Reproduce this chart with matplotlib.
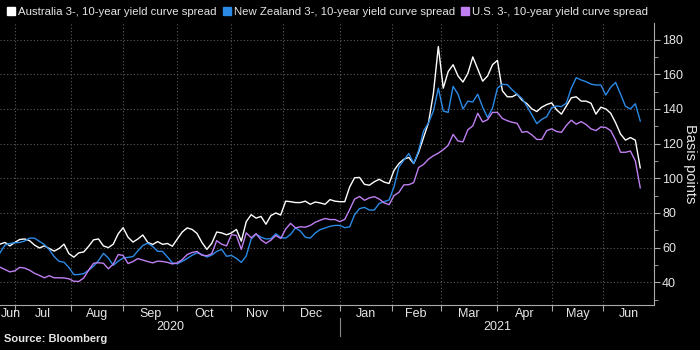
import matplotlib
matplotlib.use('Agg')
import matplotlib.pyplot as plt
from matplotlib.lines import Line2D
import numpy as np
import pandas as pd

#%%
# data: spreads in basis points, read off every 2nd business day
start_day = '2020-06-23'
end_day = '2021-06-22'

australia = [62, 63, 61, 63, 64.7, 65, 64, 61.5, 59.8, 61, 59.5, 58, 59.5, 62, 56.5, 54.5, 57, 57.5, 60.8, 64.5,
             65, 61, 60, 62, 68, 71.5, 66, 63.2, 65, 67.3, 63, 61.8, 63.5, 61.9, 62.4, 60.8, 65, 69, 71.4, 70.5,
             68.2, 63, 59, 62.5, 69, 68.5, 67.4, 68.5, 70.5, 63.7, 75, 79, 77, 78, 73.5, 78.5, 80, 78.8, 86.8, 86.5,
             86, 86, 86.8, 85, 86.3, 85.8, 85, 87.7, 86.8, 86.5, 86.5, 95, 100.3, 100.5, 96.5, 96, 98, 99.4, 97.8, 97,
             104.5, 108.5, 111, 112, 108.5, 115, 123.4, 132, 149, 176, 152, 161.5, 165.5, 159, 155.5, 160.5, 170, 163, 156, 159,
             165.5, 168, 150.5, 147, 147, 148.5, 145, 143, 140, 138.5, 141, 142.5, 143.5, 139.5, 137, 141.7, 146.4, 147, 144.5, 144.5,
             143.3, 137, 141, 140, 137.5, 132, 125.5, 122, 123.5, 122, 106]

new_zealand = [57, 61.5, 62.4, 62.8, 63, 63.8, 65.5, 65.5, 63.6, 61.8, 58.8, 54.8, 52.1, 51.6, 48.5, 44.4, 44.5, 45, 47, 49.3,
               52.5, 56.7, 54, 49.8, 52.2, 54, 54.4, 54.8, 58.2, 61.2, 62.6, 60.7, 57.9, 57.8, 54.6, 51.2, 50.7, 52.1, 53.7, 55.6,
               57, 56.1, 54.6, 55.7, 57.8, 59, 55, 55.5, 53.8, 51.5, 55.2, 65, 67.8, 66, 65, 65.2, 68, 65.8, 65.5, 67.6,
               71.4, 69.5, 66, 65.5, 68.4, 70.4, 71.3, 72.3, 72.8, 72.8, 71.5, 72, 79, 82.5, 83.2, 81.7, 81.7, 85.5, 86.5, 87.5,
               95, 106.6, 110.5, 114.3, 108.5, 116, 127.3, 132, 138.8, 152, 138.8, 138, 153, 148.5, 140, 144.5, 144, 148.5, 141, 135,
               140.4, 152, 154.2, 154, 151, 148.5, 146, 141.5, 136.5, 131.5, 134, 135.5, 140.7, 141.7, 141.3, 143.4, 152, 158, 156.7, 155.7,
               154.3, 153.8, 153.8, 148, 152.5, 155.3, 148.5, 141.5, 140, 143, 133]

us = [48.7, 47.4, 46, 46.6, 48.6, 48.2, 47, 45.2, 44, 42.6, 43.8, 42.6, 42.6, 42.5, 42, 40.6, 40.5, 42.5, 47, 51,
      51.3, 51, 47.8, 50.5, 56, 55.5, 50.8, 52, 53.7, 52.8, 52, 51.2, 52.2, 52, 51.5, 50.6, 51.2, 53.1, 56, 57.2,
      57.8, 55.6, 55.3, 56.5, 64, 62, 61, 67.5, 67, 59, 68.5, 65.7, 68, 64.5, 62.5, 64.3, 67, 65.3, 70.7, 74,
      71.4, 72, 71.8, 72.8, 74.6, 75.8, 76.8, 76.2, 76.2, 75, 76.3, 82, 88, 89.5, 87.3, 88.7, 89.4, 88, 85.8, 84.8,
      90, 91.9, 96.2, 96.3, 97.5, 106.2, 108, 111, 113, 114.5, 116.5, 119, 125.3, 121.5, 121, 128, 130.2, 137.5, 132.5, 133.8,
      138, 138, 134.5, 133.2, 132.3, 131.7, 126.5, 127, 125, 122.4, 122.4, 127.5, 128.5, 127, 126.5, 130.5, 133.5, 131.2, 132.7, 131,
      128.5, 127.5, 129.6, 129.3, 127.5, 122, 115, 115, 115.7, 110, 94.5]

labels = ['Australia 3-, 10-year yield curve spread',
          'New Zealand 3-, 10-year yield curve spread',
          'U.S. 3-, 10-year yield curve spread']
colors = ['#ffffff', '#2a8ae6', '#bf7ff2']

#%%
plt.rcParams['font.family'] = ['Liberation Sans', 'DejaVu Sans']
plt.rcParams['text.color'] = '#e6e6e6'

bdays = pd.bdate_range(start_day, end_day)   # chart x-axis counts business days
x = np.arange(len(bdays))[::2]
x_right = len(bdays) + 4.5

fig = plt.figure(figsize=(7, 3.5), dpi=100, facecolor='black')
ax = fig.add_axes([0, 0.129, 0.934, 0.805], facecolor='black')

for vals, c in zip([australia, new_zealand, us], colors):
    ax.plot(x, vals, color=c, lw=1.0)

ax.set_xlim(0, x_right)
ax.set_ylim(27, 189.5)

# month starts -> grid + ticks, month names centred in between
starts = [i for i in range(1, len(bdays)) if bdays[i].month != bdays[i - 1].month]
bounds = [0] + starts + [x_right]
mids = [(a + b) / 2 for a, b in zip(bounds[:-1], bounds[1:])]
mids[0] = max(mids[0], 4.5)
month_names = [bdays[0].strftime('%b')] + [bdays[i].strftime('%b') for i in starts]

ax.set_xticks(starts)
ax.set_xticklabels([])
ax.set_xticks(mids, minor=True)
ax.set_xticklabels(month_names, minor=True)
ax.tick_params(axis='x', which='major', length=4, color='#aaaaaa', direction='out')
ax.tick_params(axis='x', which='minor', length=0, pad=2, labelsize=9, labelcolor='#e6e6e6')

# years under the months
jan = [i for i in starts if bdays[i].month == 1][0]
tr = ax.get_xaxis_transform()
ax.text(jan / 2, -0.08, '2020', transform=tr, ha='center', va='center', fontsize=9)
ax.text((jan + x_right) / 2, -0.08, '2021', transform=tr, ha='center', va='center', fontsize=9)
ax.plot([jan, jan], [-0.045, -0.11], transform=tr, color='#888888', lw=0.8, clip_on=False)

# y axis on the right
ax.yaxis.tick_right()
ax.yaxis.set_label_position('right')
ax.set_yticks(range(40, 181, 20))
ax.set_yticks(range(30, 181, 20), minor=True)
ax.tick_params(axis='y', which='major', length=4, color='#aaaaaa', labelsize=9, labelcolor='#e6e6e6', pad=2)
ax.tick_params(axis='y', which='minor', length=3, color='#aaaaaa')
ax.set_ylabel('Basis points', rotation=270, labelpad=10, fontsize=10.5, color='#e6e6e6')

ax.grid(which='major', linestyle=(0, (1, 2)), color='#5a5a5a', lw=0.8)
for side in ['left', 'top']:
    ax.spines[side].set_visible(False)
for side in ['right', 'bottom']:
    ax.spines[side].set_color('#aaaaaa')

# legend across the top
handles = [Line2D([], [], marker='s', linestyle='', color=c, markersize=6) for c in colors]
fig.legend(handles, labels, loc='upper left', bbox_to_anchor=(-0.004, 1.01), ncol=3, frameon=False,
           fontsize=8.2, handlelength=0.7, handletextpad=0.25, columnspacing=0.55, labelcolor='#e6e6e6')

fig.text(0.005, 0.022, 'Source: Bloomberg', fontsize=8, fontweight='bold', color='#e6e6e6')

fig.savefig('out.png', dpi=100, facecolor='black')
